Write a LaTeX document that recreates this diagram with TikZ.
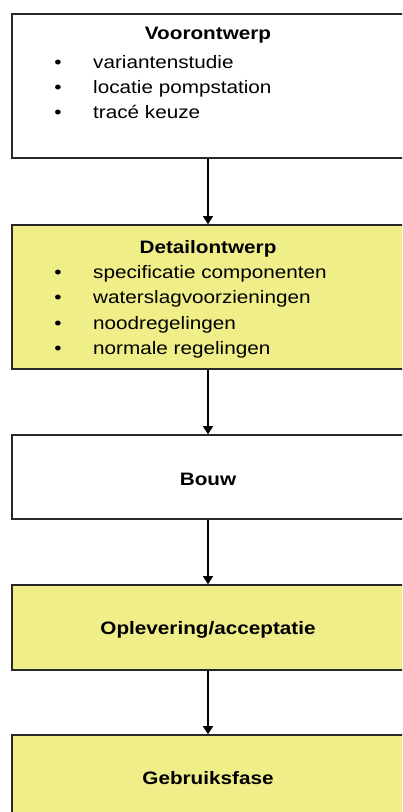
\documentclass[tikz,border=0pt]{standalone}
\usepackage{fontspec}
\setmainfont{Liberation Sans}[FakeStretch=1.15]
\usetikzlibrary{arrows.meta}
\definecolor{phaseyellow}{RGB}{240,238,136}
\definecolor{edgegray}{RGB}{40,40,40}
\tikzset{
  phase/.style={draw=edgegray, line width=1.6pt, rectangle, minimum width=392pt,
    inner sep=0pt, font=\fontsize{18}{20}\selectfont\bfseries},
  plain/.style={phase, fill=white},
  tinted/.style={phase, fill=phaseyellow},
  heading/.style={anchor=base, inner sep=0pt, font=\fontsize{18}{20}\selectfont\bfseries},
  itemtext/.style={anchor=base west, inner sep=0pt, font=\fontsize{18}{20}\selectfont},
  dot/.style={anchor=base, inner sep=0pt, font=\fontsize{18}{20}\selectfont},
  flow/.style={line width=1.2pt, -{Triangle[width=10pt,length=8pt]}}
}
\begin{document}
\begin{tikzpicture}[x=1pt,y=-1pt]
\useasboundingbox (0,0) rectangle (402,812);
\clip (0,0) rectangle (402,812);

% phase boxes
\node[plain,  minimum height=144pt] (voor)   at (208,86)    {};
\node[tinted, minimum height=144pt] (detail) at (208,297)   {};
\node[plain,  minimum height=84pt]  (bouw)   at (208,477)   {};
\node[tinted, minimum height=85pt]  (oplev)  at (208,627.5) {};
\node[tinted, minimum height=86pt]  (gebr)   at (208,778)   {};

% box titles
\node[heading] (voorT)   at (208,39)  {Voorontwerp};
\node[heading] (detailT) at (208,253) {Detailontwerp};
\node[heading] (bouwT)   at (208,485) {Bouw};
\node[heading] (oplevT)  at (208,634) {Oplevering/acceptatie};
\node[heading] (gebrT)   at (208,784) {Gebruiksfase};

% Voorontwerp items
\node[dot] (vb1) at (58,68)  {•};
\node[dot] (vb2) at (58,93)  {•};
\node[dot] (vb3) at (58,118) {•};
\node[itemtext] (vi1) at (93,68)  {variantenstudie};
\node[itemtext] (vi2) at (93,93)  {locatie pompstation};
\node[itemtext] (vi3) at (93,118) {tracé keuze};

% Detailontwerp items
\node[dot] (db1) at (58,278) {•};
\node[dot] (db2) at (58,303.5) {•};
\node[dot] (db3) at (58,329) {•};
\node[dot] (db4) at (58,354.5) {•};
\node[itemtext] (di1) at (93,278)   {specificatie componenten};
\node[itemtext] (di2) at (93,303.5) {waterslagvoorzieningen};
\node[itemtext] (di3) at (93,329)   {noodregelingen};
\node[itemtext] (di4) at (93,354.5) {normale regelingen};

% connectors
\draw[flow] (voor.south)   -- (detail.north);
\draw[flow] (detail.south) -- (bouw.north);
\draw[flow] (bouw.south)   -- (oplev.north);
\draw[flow] (oplev.south)  -- (gebr.north);
\end{tikzpicture}
\end{document}
